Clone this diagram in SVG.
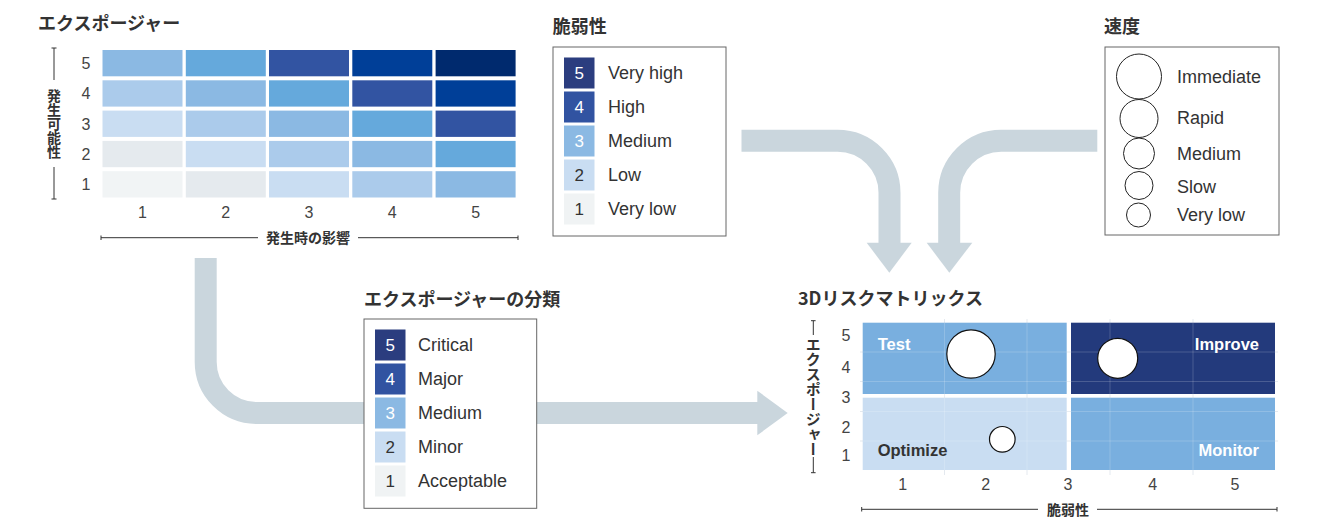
<svg xmlns="http://www.w3.org/2000/svg" width="1326" height="517" viewBox="0 0 1326 517">
<style>
.t{font-family:"Noto Sans CJK JP","Liberation Sans",sans-serif;font-size:18px;font-weight:700;fill:#333}
.jp{font-family:"Noto Sans CJK JP",sans-serif;font-size:14px;font-weight:700;fill:#333}
.vt{font-family:"Noto Sans CJK JP",sans-serif;font-size:14px;font-weight:700;fill:#333;writing-mode:vertical-rl}
.ax{font-family:"Liberation Sans","Noto Sans CJK JP",sans-serif;font-size:16px;fill:#444;text-anchor:middle}
.lg{font-family:"Liberation Sans","Noto Sans CJK JP",sans-serif;font-size:18px;fill:#333}
.num{font-family:"Liberation Sans",sans-serif;font-size:17px;text-anchor:middle}
.q{font-family:"Liberation Sans",sans-serif;font-size:16.5px;font-weight:700}
.box{fill:#fff;stroke:#666;stroke-width:1}
.axl{stroke:#333;stroke-width:1;fill:none}
.arr{fill:none;stroke:#cad6dd;stroke-width:22}
.ah{fill:#cad6dd}
.bub{fill:#fff;stroke:#111;stroke-width:1.2}
.sp{fill:#fff;stroke:#222;stroke-width:1}
.grid{stroke:#ffffff;stroke-opacity:0.18;stroke-width:1}
</style>

<g id="connectors">
  <path class="arr" d="M205.7,258 V362 A51,51 0 0 0 256.7,413 H758"/>
  <polygon class="ah" points="757.3,390.7 787.7,413 757.3,435.3"/>
  <path class="arr" d="M741.5,140.8 H837.5 A52,52 0 0 1 889.5,192.8 V243"/>
  <polygon class="ah" points="866.7,242.7 911.7,242.7 889.3,272.7"/>
  <path class="arr" d="M1097.3,140.8 H1001.2 A52,52 0 0 0 949.2,192.8 V243"/>
  <polygon class="ah" points="926.7,242.7 972.3,242.7 949.3,272.7"/>
</g>

<g id="exposure-heatmap">
  <text class="t" x="38" y="30">エクスポージャー</text>
  <g>
    <rect x="102.5" y="50" width="80" height="26.3" fill="#8bb9e3"/>
    <rect x="185.8" y="50" width="80" height="26.3" fill="#65a9dc"/>
    <rect x="269" y="50" width="80" height="26.3" fill="#3254a2"/>
    <rect x="352.3" y="50" width="80" height="26.3" fill="#003f98"/>
    <rect x="435.6" y="50" width="80" height="26.3" fill="#002a6e"/>
    <rect x="102.5" y="80.3" width="80" height="26.3" fill="#abcbeb"/>
    <rect x="185.8" y="80.3" width="80" height="26.3" fill="#8bb9e3"/>
    <rect x="269" y="80.3" width="80" height="26.3" fill="#65a9dc"/>
    <rect x="352.3" y="80.3" width="80" height="26.3" fill="#3254a2"/>
    <rect x="435.6" y="80.3" width="80" height="26.3" fill="#003f98"/>
    <rect x="102.5" y="110.6" width="80" height="26.3" fill="#c9ddf2"/>
    <rect x="185.8" y="110.6" width="80" height="26.3" fill="#abcbeb"/>
    <rect x="269" y="110.6" width="80" height="26.3" fill="#8bb9e3"/>
    <rect x="352.3" y="110.6" width="80" height="26.3" fill="#65a9dc"/>
    <rect x="435.6" y="110.6" width="80" height="26.3" fill="#3254a2"/>
    <rect x="102.5" y="140.9" width="80" height="26.3" fill="#e5eaee"/>
    <rect x="185.8" y="140.9" width="80" height="26.3" fill="#c9ddf2"/>
    <rect x="269" y="140.9" width="80" height="26.3" fill="#abcbeb"/>
    <rect x="352.3" y="140.9" width="80" height="26.3" fill="#8bb9e3"/>
    <rect x="435.6" y="140.9" width="80" height="26.3" fill="#65a9dc"/>
    <rect x="102.5" y="171.2" width="80" height="26.3" fill="#f1f4f5"/>
    <rect x="185.8" y="171.2" width="80" height="26.3" fill="#e5eaee"/>
    <rect x="269" y="171.2" width="80" height="26.3" fill="#c9ddf2"/>
    <rect x="352.3" y="171.2" width="80" height="26.3" fill="#abcbeb"/>
    <rect x="435.6" y="171.2" width="80" height="26.3" fill="#8bb9e3"/>
  </g>
  <text class="ax" x="86" y="69">5</text>
  <text class="ax" x="86" y="99.3">4</text>
  <text class="ax" x="86" y="129.6">3</text>
  <text class="ax" x="86" y="159.9">2</text>
  <text class="ax" x="86" y="190.2">1</text>
  <text class="ax" x="142.5" y="217.5">1</text>
  <text class="ax" x="225.8" y="217.5">2</text>
  <text class="ax" x="309" y="217.5">3</text>
  <text class="ax" x="392.3" y="217.5">4</text>
  <text class="ax" x="475.6" y="217.5">5</text>
  <path class="axl" d="M54,48 V80 M51.5,48 H56.5 M54,167 V199 M51.5,199 H56.5"/>
  <text class="vt" x="54" y="124" text-anchor="middle">発生可能性</text>
  <path class="axl" d="M101,237.7 H258 M358,237.7 H518 M101,235.5 V240 M518,235.5 V240"/>
  <text class="jp" x="308" y="243" text-anchor="middle">発生時の影響</text>
</g>

<g id="vulnerability-legend">
  <text class="t" x="552.7" y="33">脆弱性</text>
  <rect class="box" x="553" y="47" width="173" height="189"/>
  <rect x="564" y="57.5" width="30.5" height="31" fill="#2b3d7f"/>
  <rect x="564" y="91.5" width="30.5" height="31" fill="#3153a1"/>
  <rect x="564" y="125.5" width="30.5" height="31" fill="#8bb9e3"/>
  <rect x="564" y="159.5" width="30.5" height="31" fill="#c9ddf2"/>
  <rect x="564" y="193.5" width="30.5" height="31" fill="#f0f3f4"/>
  <text class="num" x="579.3" y="79" fill="#fff">5</text>
  <text class="num" x="579.3" y="113" fill="#fff">4</text>
  <text class="num" x="579.3" y="147" fill="#fff">3</text>
  <text class="num" x="579.3" y="181" fill="#333">2</text>
  <text class="num" x="579.3" y="215" fill="#333">1</text>
  <text class="lg" x="608" y="79">Very high</text>
  <text class="lg" x="608" y="113">High</text>
  <text class="lg" x="608" y="147">Medium</text>
  <text class="lg" x="608" y="181">Low</text>
  <text class="lg" x="608" y="215">Very low</text>
</g>

<g id="speed-legend">
  <text class="t" x="1104" y="33">速度</text>
  <rect class="box" x="1105" y="47" width="174" height="188"/>
  <circle class="sp" cx="1139" cy="76.5" r="22.5"/>
  <circle class="sp" cx="1139" cy="118.5" r="19"/>
  <circle class="sp" cx="1139" cy="153.5" r="15.5"/>
  <circle class="sp" cx="1139" cy="185.5" r="14"/>
  <circle class="sp" cx="1138.5" cy="215" r="12"/>
  <text class="lg" x="1177" y="83">Immediate</text>
  <text class="lg" x="1177" y="123.5">Rapid</text>
  <text class="lg" x="1177" y="159.5">Medium</text>
  <text class="lg" x="1177" y="192.5">Slow</text>
  <text class="lg" x="1177" y="221">Very low</text>
</g>

<g id="exposure-class-legend">
  <text class="t" x="364" y="306">エクスポージャーの分類</text>
  <rect class="box" x="364" y="319" width="172.7" height="189.3"/>
  <rect x="375" y="329.5" width="30.5" height="31" fill="#2b3d7f"/>
  <rect x="375" y="363.5" width="30.5" height="31" fill="#3153a1"/>
  <rect x="375" y="397.5" width="30.5" height="31" fill="#8bb9e3"/>
  <rect x="375" y="431.5" width="30.5" height="31" fill="#c9ddf2"/>
  <rect x="375" y="465.5" width="30.5" height="31" fill="#f0f3f4"/>
  <text class="num" x="390.3" y="351" fill="#fff">5</text>
  <text class="num" x="390.3" y="385" fill="#fff">4</text>
  <text class="num" x="390.3" y="419" fill="#fff">3</text>
  <text class="num" x="390.3" y="453" fill="#333">2</text>
  <text class="num" x="390.3" y="487" fill="#333">1</text>
  <text class="lg" x="418" y="351">Critical</text>
  <text class="lg" x="418" y="385">Major</text>
  <text class="lg" x="418" y="419">Medium</text>
  <text class="lg" x="418" y="453">Minor</text>
  <text class="lg" x="418" y="487">Acceptable</text>
</g>

<g id="risk-matrix-3d">
  <text class="t" x="798" y="305">3Dリスクマトリックス</text>
  <path d="M944.5,319 V475 M1027,319 V475 M1110,319 V475 M1193,319 V475 M860,352 H1278 M860,381.5 H1278 M860,411.5 H1278 M860,441 H1278" stroke="#e4e9ef" stroke-width="1"/>
  <rect x="862.7" y="322.7" width="204" height="71.3" fill="#79afdf"/>
  <rect x="1071" y="322.7" width="204" height="71.3" fill="#233a7c"/>
  <rect x="862.7" y="397.7" width="204" height="72.3" fill="#c9ddf2"/>
  <rect x="1071" y="397.7" width="204" height="72.3" fill="#79afdf"/>
  <path class="grid" d="M944.5,322.7 V470 M1027,322.7 V470 M1110,322.7 V470 M1193,322.7 V470 M862.7,352 H1275 M862.7,381.5 H1275 M862.7,411.5 H1275 M862.7,441 H1275"/>
  <text class="q" x="877.7" y="349.5" fill="#fff">Test</text>
  <text class="q" x="1259" y="349.5" fill="#fff" text-anchor="end">Improve</text>
  <text class="q" x="877.7" y="456" fill="#333">Optimize</text>
  <text class="q" x="1259" y="456" fill="#fff" text-anchor="end">Monitor</text>
  <circle class="bub" cx="971" cy="354" r="24.2"/>
  <circle class="bub" cx="1117.7" cy="358.3" r="20"/>
  <circle class="bub" cx="1002.3" cy="439.3" r="12.8"/>
  <text class="ax" x="846" y="341">5</text>
  <text class="ax" x="846" y="372.5">4</text>
  <text class="ax" x="846" y="402.5">3</text>
  <text class="ax" x="846" y="432.5">2</text>
  <text class="ax" x="846" y="461">1</text>
  <text class="ax" x="902.7" y="489.5">1</text>
  <text class="ax" x="985.7" y="489.5">2</text>
  <text class="ax" x="1068" y="489.5">3</text>
  <text class="ax" x="1152.7" y="489.5">4</text>
  <text class="ax" x="1235" y="489.5">5</text>
  <path class="axl" d="M813.3,320.7 V335 M811,320.7 H815.6 M813.3,457 V472.7 M811,472.7 H815.6"/>
  <text class="vt" x="813.3" y="396.5" text-anchor="middle" style="font-size:15px">エクスポージャー</text>
  <path class="axl" d="M861.7,509.3 H1038 M1097,509.3 H1277 M861.7,507 V511.5 M1277,507 V511.5"/>
  <text class="jp" x="1068" y="514.5" text-anchor="middle">脆弱性</text>
</g>
</svg>
